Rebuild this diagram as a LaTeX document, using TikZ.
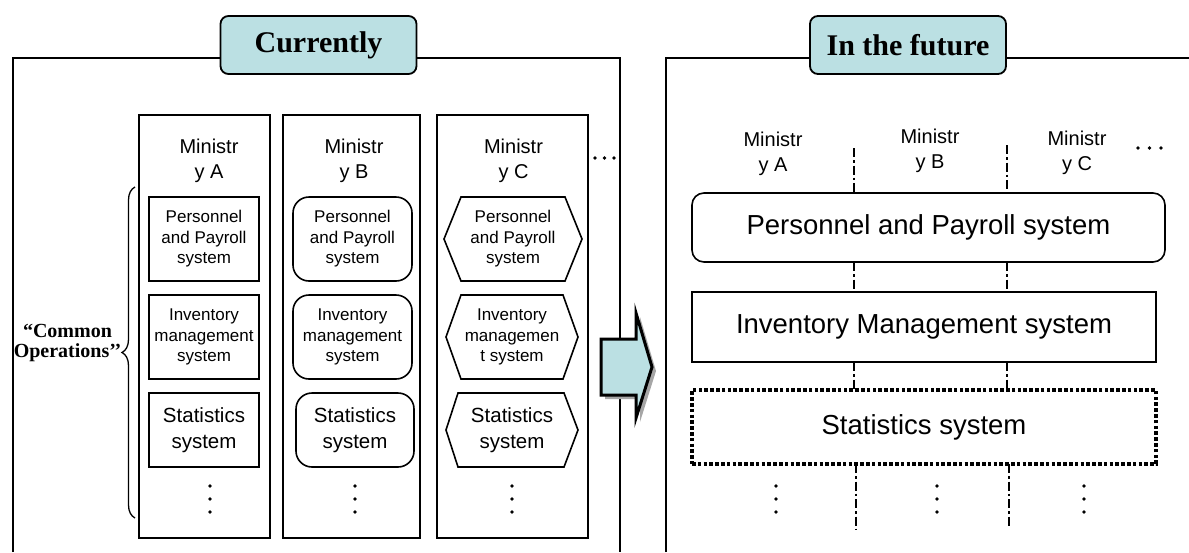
\documentclass[tikz,border=0pt]{standalone}
\usepackage{fontspec}
\setmainfont{Liberation Sans}
\newfontfamily\serifb{Liberation Serif}
\usetikzlibrary{decorations.pathreplacing}
\definecolor{lcyan}{RGB}{187,224,227}
\begin{document}
\begin{tikzpicture}[x=1pt,y=1pt,
  every node/.style={inner sep=0pt, outer sep=0pt, align=center},
  frame/.style={line width=1.8pt},
  titlebox/.style={draw, line width=1.8pt, fill=lcyan, rounded corners=8pt,
    minimum width=196pt, minimum height=58pt, font=\serifb\bfseries\fontsize{30}{36}\selectfont},
  colbox/.style={draw, line width=1.6pt},
  mintext/.style={font=\fontsize{20}{25}\selectfont},
  sq/.style={draw, line width=1.6pt},
  rnd/.style={draw, line width=1.6pt, rounded corners=16pt},
  hex/.style={line width=1.6pt, line join=miter},
  small/.style={font=\fontsize{17}{20.5}\selectfont},
  stat/.style={font=\fontsize{20.5}{26}\selectfont},
  big/.style={font=\fontsize{27.5}{33}\selectfont},
  sep/.style={line width=2pt, dash pattern=on 9pt off 3pt on 2.5pt off 3pt},
  dotbox/.style={draw, line width=3.5pt, dash pattern=on 3.6pt off 2.2pt},
  vdot/.style={fill=black},
]
\useasboundingbox (0,0) rectangle (1189,-552);
\clip (0,0) rectangle (1189,-552);

% ---------- left panel ----------
\draw[frame] (12.6,-552) -- (12.6,-58) -- (620,-58) -- (620,-552);
\node[titlebox] (cur) at (318.5,-45) {Currently};

% columns
\node[colbox, minimum width=131pt, minimum height=423pt] (colA) at (204.5,-326.5) {};
\node[colbox, minimum width=137pt, minimum height=423pt] (colB) at (351.5,-326.5) {};
\node[colbox, minimum width=151pt, minimum height=423pt] (colC) at (512.5,-326.5) {};

\node[mintext] (mA) at (209,-160.5) {Ministr\\y A};
\node[mintext] (mB) at (354,-160.5) {Ministr\\y B};
\node[mintext] (mC) at (513.5,-160.5) {Ministr\\y C};

% column A (rectangles)
\node[sq, small, minimum width=110pt, minimum height=84pt] (aP) at (204,-239) {Personnel\\and Payroll\\system};
\node[sq, small, minimum width=110pt, minimum height=84pt] (aI) at (204,-337) {Inventory\\management\\system};
\node[sq, stat, minimum width=110pt, minimum height=74pt] (aS) at (204,-430) {Statistics\\system};

% column B (rounded)
\node[rnd, small, minimum width=119pt, minimum height=84pt] (bP) at (352.5,-239) {Personnel\\and Payroll\\system};
\node[rnd, small, minimum width=119pt, minimum height=84pt] (bI) at (352.5,-337) {Inventory\\management\\system};
\node[rnd, stat, minimum width=118pt, minimum height=74pt] (bS) at (355,-430) {Statistics\\system};

% column C (hexagons)
\draw[hex] (444,-239) -- (461,-197) -- (565,-197) -- (582,-239) -- (565,-281) -- (461,-281) -- cycle;
\draw[hex] (446,-337) -- (461,-295) -- (563,-295) -- (578,-337) -- (563,-379) -- (461,-379) -- cycle;
\draw[hex] (446,-430) -- (458,-393) -- (564,-393) -- (578,-430) -- (564,-467) -- (458,-467) -- cycle;
\node[small] (cP) at (513,-239) {Personnel\\and Payroll\\system};
\node[small] (cI) at (512,-337) {Inventory\\managemen\\t system};
\node[stat] (cS) at (512,-430) {Statistics\\system};

% vertical dots in columns
\foreach \x in {210,355,512} {
  \foreach \y in {486,499,512} { \fill[vdot] (\x,-\y) circle (1.8pt); }
}
% horizontal dots after column C
\foreach \x in {595,604.5,614} { \fill[vdot] (\x,-158) circle (1.8pt); }

% brace and label
\draw[line width=1.3pt, decorate, decoration={brace, amplitude=13pt}] (135,-518) -- (135,-187);
\node[font=\serifb\bfseries\fontsize{20}{20.5}\selectfont] (co) at (67.5,-343) {“Common\\Operations’’};

% ---------- arrow ----------
\fill[gray!70] (605,-343) -- (640,-343) -- (640,-317) -- (656,-371) -- (640,-422) -- (640,-399) -- (605,-399) -- cycle;
\draw[line width=3pt, fill=lcyan, line join=miter] (601,-339) -- (636,-339) -- (636,-313) -- (652,-367) -- (636,-418) -- (636,-395) -- (601,-395) -- cycle;

% ---------- right panel ----------
\draw[frame] (666,-552) -- (666,-58) -- (1189,-58);
\node[titlebox] (fut) at (908,-45) {In the future};

\node[mintext] (rA) at (773,-153.5) {Ministr\\y A};
\node[mintext] (rB) at (930,-151) {Ministr\\y B};
\node[mintext] (rC) at (1077,-152.5) {Ministr\\y C};
\foreach \x in {1138,1149.5,1161} { \fill[vdot] (\x,-148) circle (1.8pt); }

\node[draw, line width=1.6pt, rounded corners=12pt, big, minimum width=473pt, minimum height=69pt] (pp) at (928.5,-227.5) {Personnel and Payroll system};
\node[draw, line width=1.6pt, big, minimum width=464pt, minimum height=70pt] (inv) at (924,-327) {Inventory Management system};
\node[dotbox, big, minimum width=464pt, minimum height=74pt] (st) at (924,-427) {Statistics system};

\coordinate (tA) at (854,-148);
\coordinate (tB) at (1007,-145);
\coordinate (bA) at (856,-530);
\coordinate (bB) at (1009,-528);

\draw[sep] (tA) -- (tA |- pp.north);
\draw[sep] (tB) -- (tB |- pp.north);
\draw[sep] (tA |- pp.south) -- (tA |- inv.north);
\draw[sep] (tB |- pp.south) -- (tB |- inv.north);
\draw[sep] (tA |- inv.south) -- (tA |- st.north);
\draw[sep] (tB |- inv.south) -- (tB |- st.north);
\draw[sep] (bA |- st.south) -- (bA);
\draw[sep] (bB |- st.south) -- (bB);

\foreach \x in {776,937,1084} {
  \foreach \y in {486,499,512} { \fill[vdot] (\x,-\y) circle (1.8pt); }
}
\end{tikzpicture}
\end{document}
